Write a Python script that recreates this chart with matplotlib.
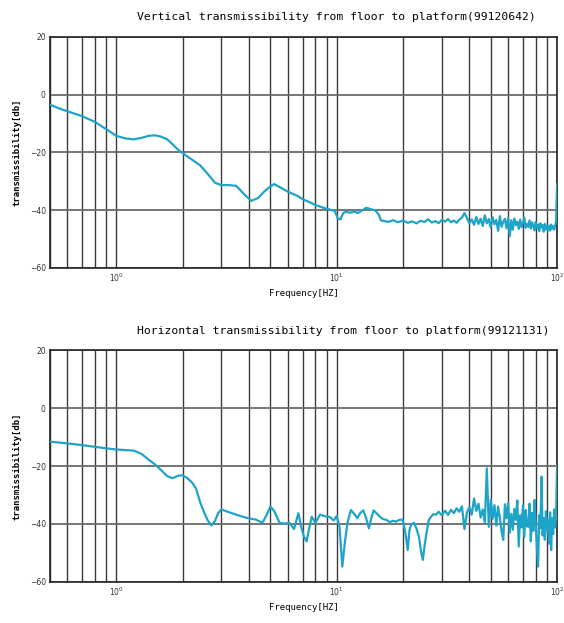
import matplotlib
matplotlib.use("Agg")
import matplotlib.pyplot as plt
from matplotlib.ticker import LogLocator, NullFormatter

# vertical transmissibility (floor -> platform)
vert_freq = [0.5, 0.55, 0.6, 0.7, 0.8, 0.9, 1.0, 1.1, 1.2, 1.3, 1.4, 1.5, 1.6, 1.7,
             1.8, 1.9, 2.0, 2.2, 2.4, 2.6, 2.8, 3.0, 3.2, 3.5, 3.8, 4.1, 4.4, 4.7,
             5.0, 5.2, 5.5, 6.0, 6.6, 7.0, 7.5, 8.0, 8.7, 9.3, 9.8, 10.1, 10.4, 10.7,
             11.0, 11.5, 12.0, 12.5, 13.0, 13.6, 14.2, 15.0, 15.5, 15.9, 16.5, 17.2,
             18.0, 18.6,
             19, 20, 21, 22, 23, 24, 25, 26, 27, 28, 29, 30, 31, 32, 33, 34, 35, 36,
             37, 38, 39, 40, 41, 42, 43, 44, 45, 46, 47, 48, 49, 50, 51, 52, 53, 54,
             55, 56, 57, 58, 59, 60, 61, 62, 63, 64, 65, 66, 67, 68, 69, 70, 71, 72,
             73, 74, 75, 76, 77, 78, 79, 80, 81, 82, 83, 84, 85, 86, 87, 88, 89, 90,
             91, 92, 93, 94, 95, 96, 97, 98, 99, 100]
vert_db = [-3.5, -4.8, -5.8, -7.5, -9.5, -12.0, -14.3, -15.2, -15.5, -15.0, -14.3,
           -14.1, -14.6, -15.5, -17.2, -19.0, -20.3, -22.5, -24.5, -27.5, -30.5,
           -31.4, -31.3, -31.6, -34.5, -36.8, -35.8, -33.5, -31.8, -31.0, -32.0,
           -33.6, -35.0, -36.2, -37.2, -38.2, -39.2, -39.8, -40.3, -42.8, -43.2,
           -41.0, -40.6, -40.9, -40.5, -41.0, -40.2, -39.2, -39.6, -40.2, -41.5,
           -43.6, -43.8, -44.1, -43.5, -43.9,
           -44.2, -43.6, -44.4, -43.9, -44.6, -43.7, -44.1, -43.2, -44.3, -43.8,
           -44.5, -43.4, -44.0, -43.1, -44.2, -43.6, -44.4, -43.3, -42.6, -41.0,
           -42.8, -44.5, -43.2, -45.1, -42.4, -44.8, -43.0, -45.5, -41.8, -44.6,
           -43.1, -46.0, -42.5, -44.9, -43.4, -47.2, -42.1, -45.8, -44.0, -43.0,
           -46.3, -42.8, -49.0, -43.5, -46.8, -42.9, -45.2, -44.0, -46.5, -43.3,
           -45.9, -44.4, -42.6, -46.1, -44.7, -45.8, -43.6, -46.4, -44.2, -45.5,
           -47.0, -44.1, -46.2, -45.0, -47.3, -44.6, -46.0, -45.2, -47.5, -44.8,
           -46.7, -45.3, -46.9, -45.4, -47.1, -45.0, -46.4, -45.6, -46.8, -45.2,
           -44.0, -31.0]

# horizontal transmissibility (floor -> platform)
horz_freq = [0.5, 0.6, 0.7, 0.8, 0.9, 1.0, 1.1, 1.2, 1.3, 1.4, 1.5, 1.6, 1.7, 1.8,
             1.9, 2.0, 2.1, 2.2, 2.3, 2.4, 2.5, 2.6, 2.7, 2.8, 2.9, 3.0, 3.2, 3.5,
             3.9, 4.3, 4.6, 4.8, 5.0, 5.2, 5.5, 5.8, 6.1, 6.4, 6.7, 6.9, 7.1, 7.3,
             7.5, 7.7, 8.0, 8.4, 8.9, 9.3, 9.7, 10.0, 10.3, 10.6, 10.9, 11.2, 11.6,
             12.0, 12.4, 12.8, 13.2, 13.6, 14.0, 14.3, 14.7, 15.2, 15.7, 16.2, 16.8,
             17.4, 18.0, 18.6, 19.2, 19.9, 20.5, 21.0, 21.4, 21.8, 22.4, 23.0, 23.6,
             24.2, 24.6, 25.1, 25.6, 26.2, 26.8, 27.5, 28.2,
             29, 30, 31, 32, 33, 34, 35, 36, 37, 38, 39, 40, 41, 42, 43, 44, 45, 46,
             47, 48, 49, 50, 51, 52, 53, 54, 55, 56, 57, 58, 59, 60, 61, 62, 63, 64,
             65, 66, 67, 68, 69, 70, 71, 72, 73, 74, 75, 76, 77, 78, 79, 80, 81, 82,
             83, 84, 85, 86, 87, 88, 89, 90, 91, 92, 93, 94, 95, 96, 97, 98, 99, 100]
horz_db = [-11.6, -12.2, -12.8, -13.4, -13.9, -14.3, -14.5, -14.7, -15.8, -17.8,
           -19.5, -21.5, -23.5, -24.2, -23.4, -23.2, -24.2, -25.6, -27.8, -32.5,
           -36.0, -38.8, -40.5, -39.0, -36.2, -35.0, -35.8, -36.8, -37.9, -38.5,
           -39.6, -37.0, -34.0, -35.5, -39.6, -39.9, -39.6, -41.8, -36.3, -41.0,
           -44.4, -46.0, -41.5, -37.5, -39.6, -36.8, -37.4, -37.6, -38.8, -37.2,
           -41.0, -54.7, -46.0, -39.5, -35.2, -36.5, -38.0, -36.2, -35.3, -38.0,
           -41.5, -38.5, -35.3, -36.4, -37.5, -38.3, -38.6, -39.4, -38.9, -39.2,
           -38.6, -38.5, -43.0, -49.0, -42.0, -40.2, -39.6, -41.5, -44.4, -50.0,
           -52.4, -47.0, -42.8, -38.6, -37.5, -36.6, -36.8,
           -35.8, -37.0, -35.4, -36.9, -35.1, -36.3, -34.6, -35.8, -33.9, -41.8,
           -36.0, -34.2, -36.8, -31.2, -35.5, -33.0, -37.8, -35.0, -39.5, -20.8,
           -41.0, -31.7, -38.2, -33.5, -40.6, -34.0, -37.8, -42.5, -45.5, -33.2,
           -38.0, -32.8, -43.0, -36.5, -42.0, -34.8, -38.6, -31.9, -47.8, -37.0,
           -41.2, -33.6, -44.5, -35.2, -40.8, -41.0, -33.0, -46.0, -36.2, -42.4,
           -31.7, -39.5, -48.0, -54.7, -37.0, -41.5, -23.7, -44.0, -38.0, -45.5,
           -35.6, -42.2, -38.6, -46.8, -36.0, -49.0, -38.0, -43.5, -35.0, -41.2,
           -37.4, -20.0]

titles = ["Vertical transmissibility from floor to platform(99120642)",
          "Horizontal transmissibility from floor to platform(99121131)"]

LINE = "#1ea3c9"
MONO = "DejaVu Sans Mono"

fig = plt.figure(figsize=(5.64, 6.23), dpi=100)
ax_top = fig.add_axes([0.0887, 0.570, 0.899, 0.371])
ax_bot = fig.add_axes([0.0887, 0.066, 0.899, 0.372])

for ax, f, db, title, tx, ty in [(ax_top, vert_freq, vert_db, titles[0], 0.597, 0.972),
                                 (ax_bot, horz_freq, horz_db, titles[1], 0.608, 0.469)]:
    ax.plot(f, db, color=LINE, lw=1.6, zorder=3)
    ax.set_xscale("log")
    ax.set_xlim(0.5, 100)
    ax.set_ylim(-60, 20)
    ax.set_yticks([-60, -40, -20, 0, 20])
    ax.xaxis.set_major_locator(LogLocator(base=10))
    ax.xaxis.set_minor_locator(LogLocator(base=10, subs=range(2, 10)))
    ax.xaxis.set_minor_formatter(NullFormatter())
    ax.grid(True, which="both", axis="x", color="#3a3a3a", lw=1.0)
    ax.grid(True, which="major", axis="y", color="#6a6a6a", lw=1.3)
    ax.tick_params(which="both", length=0, labelsize=5.5, colors="#333333", pad=3)
    for s in ax.spines.values():
        s.set_color("#222222")
        s.set_linewidth(1.2)
    ax.set_ylabel("transmissibility[db]", family=MONO, fontsize=6.5,
                  fontweight="bold", labelpad=6)
    ax.set_xlabel("Frequency[HZ]", family=MONO, fontsize=6.5, labelpad=3)
    fig.text(tx, ty, title, family=MONO, fontsize=8.2, ha="center", va="center")

fig.savefig("out.png", dpi=100)
